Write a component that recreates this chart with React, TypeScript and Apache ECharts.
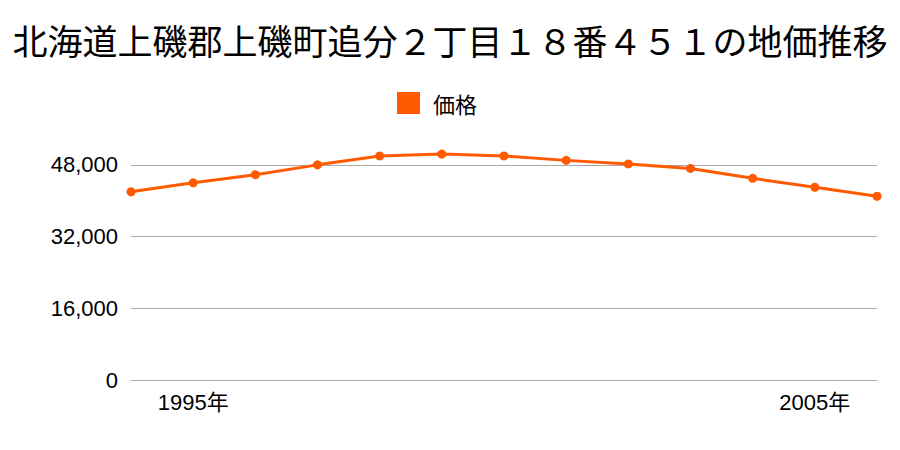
import React, { useEffect, useRef } from "react";
import * as echarts from "echarts";

const titleText = "北海道上磯郡上磯町追分２丁目１８番４５１の地価推移";
const seriesName = "価格";
const years = ["1994", "1995", "1996", "1997", "1998", "1999", "2000", "2001", "2002", "2003", "2004", "2005", "2006"];
const prices = [42000, 44000, 45800, 48000, 50000, 50400, 50000, 49000, 48200, 47200, 45000, 43000, 41000];
const shownYears = ["1995", "2005"];

const FONT = "'Noto Sans CJK JP', 'Noto Sans', sans-serif";
const AXIS_FONT = "'Liberation Sans', 'Noto Sans CJK JP', sans-serif";

export default function App() {
  const ref = useRef<HTMLDivElement>(null);
  useEffect(() => {
    if (!ref.current) return;
    const chart = echarts.init(ref.current, null, { renderer: "svg" });
    chart.setOption({
      animation: false,
      backgroundColor: "#ffffff",
      title: {
        text: titleText,
        left: "center",
        top: 17,
        textStyle: { fontFamily: FONT, fontSize: 35, fontWeight: "normal", color: "#000" },
      },
      legend: {
        data: [seriesName],
        top: 87,
        left: 392,
        icon: "rect",
        itemWidth: 23,
        itemHeight: 22,
        itemGap: 10,
        textStyle: { fontFamily: FONT, fontSize: 22, color: "#000", padding: [0, 0, 0, 8] },
      },
      grid: { left: 131, right: 23, top: 129, bottom: 70, containLabel: false },
      xAxis: {
        type: "category",
        data: years,
        boundaryGap: false,
        axisLine: { show: true, lineStyle: { color: "#aaaaaa" } },
        axisTick: { show: false },
        axisLabel: {
          interval: (i: number, v: string) => shownYears.includes(v),
          formatter: (v: string) => v + "年",
          fontFamily: AXIS_FONT,
          fontSize: 22,
          color: "#000",
          margin: 11,
        },
      },
      yAxis: {
        type: "value",
        min: 0,
        max: 56000,
        interval: 16000,
        axisLine: { show: false },
        axisTick: { show: false },
        axisLabel: {
          showMaxLabel: false,
          formatter: (v: number) => v.toLocaleString("en-US"),
          fontFamily: AXIS_FONT,
          fontSize: 22,
          color: "#000",
          margin: 13,
        },
        splitLine: { show: true, showMaxLine: false, lineStyle: { color: "#aaaaaa" } },
      },
      series: [
        {
          name: seriesName,
          type: "line",
          data: prices,
          color: "#ff5a00",
          symbol: "circle",
          symbolSize: 9,
          lineStyle: { width: 3, color: "#ff5a00" },
          itemStyle: { color: "#ff5a00" },
        },
      ],
    });
    return () => chart.dispose();
  }, []);
  return <div ref={ref} style={{ width: 900, height: 450, margin: -8 }} />;
}
